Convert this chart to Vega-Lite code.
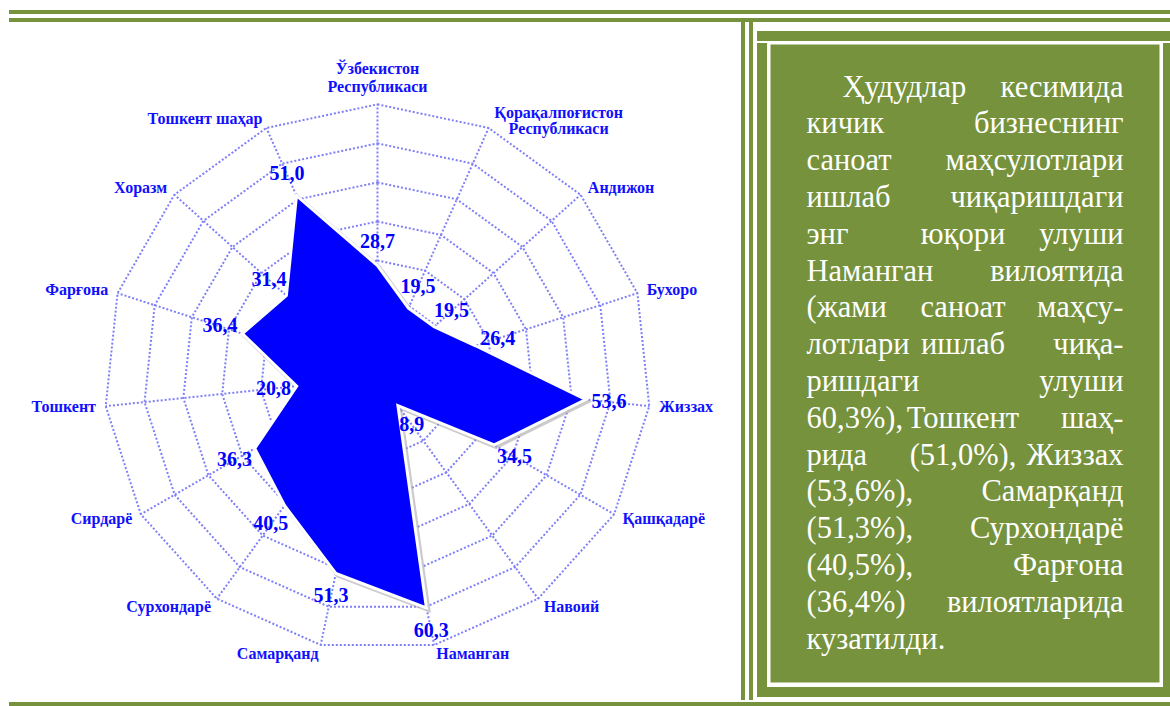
{
  "$schema": "https://vega.github.io/schema/vega-lite/v6.json",
  "padding": {"left": 0, "top": 10, "right": 0, "bottom": 0},
  "background": "#ffffff",
  "config": {
    "view": {"stroke": null},
    "concat": {"spacing": 0},
    "locale": {"number": {"decimal": ",", "thousands": " ", "grouping": [3], "currency": ["", ""]}}
  },
  "datasets": {
    "cats": [
      {"i": 0, "name": "Ўзбекистон\nРеспубликаси", "v": 28.7},
      {"i": 1, "name": "Қорақалпоғистон\nРеспубликаси", "v": 19.5},
      {"i": 2, "name": "Андижон", "v": 19.5},
      {"i": 3, "name": "Бухоро", "v": 26.4},
      {"i": 4, "name": "Жиззах", "v": 53.6},
      {"i": 5, "name": "Қашқадарё", "v": 34.5},
      {"i": 6, "name": "Навоий", "v": 8.9},
      {"i": 7, "name": "Наманган", "v": 60.3},
      {"i": 8, "name": "Самарқанд", "v": 51.3},
      {"i": 9, "name": "Сурхондарё", "v": 40.5},
      {"i": 10, "name": "Сирдарё", "v": 36.3},
      {"i": 11, "name": "Тошкент", "v": 20.8},
      {"i": 12, "name": "Фарғона", "v": 36.4},
      {"i": 13, "name": "Хоразм", "v": 31.4},
      {"i": 14, "name": "Тошкент шаҳар", "v": 51.0}
    ],
    "rings": [
      {"g": 10, "k": [0,1,2,3,4,5,6,7,8,9,10,11,12,13,14]},
      {"g": 20, "k": [0,1,2,3,4,5,6,7,8,9,10,11,12,13,14]},
      {"g": 30, "k": [0,1,2,3,4,5,6,7,8,9,10,11,12,13,14]},
      {"g": 40, "k": [0,1,2,3,4,5,6,7,8,9,10,11,12,13,14]},
      {"g": 50, "k": [0,1,2,3,4,5,6,7,8,9,10,11,12,13,14]},
      {"g": 60, "k": [0,1,2,3,4,5,6,7,8,9,10,11,12,13,14]},
      {"g": 70, "k": [0,1,2,3,4,5,6,7,8,9,10,11,12,13,14]}
    ],
    "words": [
      {"l": 1, "r": "indent", "w": "Ҳудудлар"}, {"l": 1, "r": "last", "w": "кесимида"},
      {"l": 2, "r": "first", "w": "кичик"}, {"l": 2, "r": "last", "w": "бизнеснинг"},
      {"l": 3, "r": "first", "w": "саноат"}, {"l": 3, "r": "last", "w": "маҳсулотлари"},
      {"l": 4, "r": "first", "w": "ишлаб"}, {"l": 4, "r": "last", "w": "чиқаришдаги"},
      {"l": 5, "r": "first", "w": "энг"}, {"l": 5, "r": "mid", "w": "юқори"}, {"l": 5, "r": "last", "w": "улуши"},
      {"l": 6, "r": "first", "w": "Наманган"}, {"l": 6, "r": "last", "w": "вилоятида"},
      {"l": 7, "r": "first", "w": "(жами"}, {"l": 7, "r": "mid", "w": "саноат"}, {"l": 7, "r": "last", "w": "маҳсу-"},
      {"l": 8, "r": "first", "w": "лотлари"}, {"l": 8, "r": "mid", "w": "ишлаб"}, {"l": 8, "r": "last", "w": "чиқа-"},
      {"l": 9, "r": "first", "w": "ришдаги"}, {"l": 9, "r": "last", "w": "улуши"},
      {"l": 10, "r": "first", "w": "60,3%),"}, {"l": 10, "r": "mid", "w": "Тошкент"}, {"l": 10, "r": "last", "w": "шаҳ-"},
      {"l": 11, "r": "first", "w": "рида"}, {"l": 11, "r": "mid", "w": "(51,0%),"}, {"l": 11, "r": "last", "w": "Жиззах"},
      {"l": 12, "r": "first", "w": "(53,6%),"}, {"l": 12, "r": "last", "w": "Самарқанд"},
      {"l": 13, "r": "first", "w": "(51,3%),"}, {"l": 13, "r": "last", "w": "Сурхондарё"},
      {"l": 14, "r": "first", "w": "(40,5%),"}, {"l": 14, "r": "last", "w": "Фарғона"},
      {"l": 15, "r": "first", "w": "(36,4%)"}, {"l": 15, "r": "last", "w": "вилоятларида"},
      {"l": 16, "r": "first", "w": "кузатилди."}
    ]
  },
  "vconcat": [
    {"hconcat": [
      {"width": 9, "height": 4, "data": {"values": []}, "mark": "point", "encoding": {}},
      {"width": 1161, "height": 4, "data": {"values": []}, "mark": "point", "encoding": {}, "view": {"fill": "#76923C", "stroke": null}}
    ]},
    {"vconcat": [
      {"hconcat": [
        {"width": 9, "height": 4, "data": {"values": []}, "mark": "point", "encoding": {}},
        {"width": 1161, "height": 4, "data": {"values": []}, "mark": "point", "encoding": {}, "view": {"fill": "#76923C", "stroke": null}}
      ]},
      {"hconcat": [
        {
          "width": 741, "height": 678,
          "layer": [
            {
              "data": {"name": "rings"},
              "transform": [
                {"flatten": ["k"]},
                {"calculate": "datum.k*2*PI/15", "as": "a"},
                {"calculate": "datum.g*sin(datum.a)", "as": "x"},
                {"calculate": "datum.g*cos(datum.a)", "as": "y"}
              ],
              "mark": {"type": "line", "interpolate": "linear-closed", "color": "#7f7ff8", "strokeWidth": 2, "strokeDash": [2, 2]},
              "encoding": {
                "x": {"field": "x", "type": "quantitative", "scale": {"domain": [-96.69, 93.11], "nice": false, "zero": false}, "axis": null},
                "y": {"field": "y", "type": "quantitative", "scale": {"domain": [-82.58, 91.09], "nice": false, "zero": false}, "axis": null},
                "detail": {"field": "g", "type": "nominal"},
                "order": {"field": "k", "type": "quantitative"}
              }
            },
            {
              "data": {"name": "cats"},
              "transform": [
                {"calculate": "datum.i*2*PI/15", "as": "a"},
                {"calculate": "70*sin(datum.a)", "as": "ox"},
                {"calculate": "70*cos(datum.a)", "as": "oy"},
                {"calculate": "0", "as": "zx"}
              ],
              "mark": {"type": "rule", "color": "#7f7ff8", "strokeWidth": 2, "strokeDash": [2, 2]},
              "encoding": {
                "x": {"field": "zx", "type": "quantitative"},
                "y": {"field": "zx", "type": "quantitative"},
                "x2": {"field": "ox"},
                "y2": {"field": "oy"}
              }
            },
            {
              "data": {"name": "cats"},
              "transform": [
                {"calculate": "datum.i*2*PI/15", "as": "a"},
                {"calculate": "datum.v*sin(datum.a)", "as": "x"},
                {"calculate": "datum.v*cos(datum.a)", "as": "y"}
              ],
              "mark": {"type": "line", "interpolate": "linear-closed", "color": "#a8a8a8", "strokeWidth": 4, "opacity": 0.6, "xOffset": 2, "yOffset": 2},
              "encoding": {
                "x": {"field": "x", "type": "quantitative"},
                "y": {"field": "y", "type": "quantitative"},
                "order": {"field": "i", "type": "quantitative"}
              }
            },
            {
              "data": {"name": "cats"},
              "transform": [
                {"calculate": "datum.i*2*PI/15", "as": "a"},
                {"calculate": "datum.v*sin(datum.a)", "as": "x"},
                {"calculate": "datum.v*cos(datum.a)", "as": "y"}
              ],
              "mark": {"type": "line", "interpolate": "linear-closed", "filled": true, "fill": "#0000ff", "stroke": "#ffffff", "strokeWidth": 3, "fillOpacity": 1},
              "encoding": {
                "x": {"field": "x", "type": "quantitative"},
                "y": {"field": "y", "type": "quantitative"},
                "order": {"field": "i", "type": "quantitative"}
              }
            },
            {
              "data": {"name": "cats"},
              "transform": [
                {"calculate": "datum.i*2*PI/15", "as": "a"},
                {"calculate": "(datum.v+6)*sin(datum.a)", "as": "lx"},
                {"calculate": "(datum.v+6)*cos(datum.a)", "as": "ly"}
              ],
              "mark": {"type": "text", "font": "Liberation Serif", "fontWeight": "bold", "fontSize": 20, "color": "#0000ff", "align": "center", "baseline": "middle"},
              "encoding": {
                "x": {"field": "lx", "type": "quantitative"},
                "y": {"field": "ly", "type": "quantitative"},
                "text": {"field": "v", "type": "quantitative", "format": ".1f"}
              }
            },
            {
              "data": {"name": "cats"},
              "transform": [
                {"filter": "datum.i == 0"},
                {"calculate": "datum.i*2*PI/15", "as": "a"},
                {"calculate": "72.5*sin(datum.a)", "as": "cx"},
                {"calculate": "72.5*cos(datum.a)", "as": "cy"}
              ],
              "mark": {"type": "text", "font": "Liberation Serif", "fontWeight": "bold", "fontSize": 16, "color": "#1010ff", "align": "center", "baseline": "bottom", "dy": -18, "lineBreak": "\n", "lineHeight": 18},
              "encoding": {
                "x": {"field": "cx", "type": "quantitative"},
                "y": {"field": "cy", "type": "quantitative"},
                "text": {"field": "name"}
              }
            },
            {
              "data": {"name": "cats"},
              "transform": [
                {"filter": "datum.i == 1"},
                {"calculate": "datum.i*2*PI/15", "as": "a"},
                {"calculate": "72.5*sin(datum.a)", "as": "cx"},
                {"calculate": "72.5*cos(datum.a)", "as": "cy"}
              ],
              "mark": {"type": "text", "font": "Liberation Serif", "fontWeight": "bold", "fontSize": 16, "color": "#1010ff", "align": "center", "baseline": "middle", "dx": 66, "dy": -6, "lineBreak": "\n", "lineHeight": 16},
              "encoding": {
                "x": {"field": "cx", "type": "quantitative"},
                "y": {"field": "cy", "type": "quantitative"},
                "text": {"field": "name"}
              }
            },
            {
              "data": {"name": "cats"},
              "transform": [
                {"filter": "datum.i >= 2 && datum.i <= 7"},
                {"calculate": "datum.i*2*PI/15", "as": "a"},
                {"calculate": "72.5*sin(datum.a)", "as": "cx"},
                {"calculate": "72.5*cos(datum.a)", "as": "cy"}
              ],
              "mark": {"type": "text", "font": "Liberation Serif", "fontWeight": "bold", "fontSize": 16, "color": "#1010ff", "align": "left", "baseline": "middle"},
              "encoding": {
                "x": {"field": "cx", "type": "quantitative"},
                "y": {"field": "cy", "type": "quantitative"},
                "text": {"field": "name"}
              }
            },
            {
              "data": {"name": "cats"},
              "transform": [
                {"filter": "datum.i >= 8"},
                {"calculate": "datum.i*2*PI/15", "as": "a"},
                {"calculate": "72.5*sin(datum.a)", "as": "cx"},
                {"calculate": "72.5*cos(datum.a)", "as": "cy"}
              ],
              "mark": {"type": "text", "font": "Liberation Serif", "fontWeight": "bold", "fontSize": 16, "color": "#1010ff", "align": "right", "baseline": "middle"},
              "encoding": {
                "x": {"field": "cx", "type": "quantitative"},
                "y": {"field": "cy", "type": "quantitative"},
                "text": {"field": "name"}
              }
            }
          ]
        },
        {"width": 4, "height": 678, "data": {"values": []}, "mark": "point", "encoding": {}, "view": {"fill": "#76923C", "stroke": null}},
        {"width": 4, "height": 678, "data": {"values": []}, "mark": "point", "encoding": {}},
        {"width": 4, "height": 678, "data": {"values": []}, "mark": "point", "encoding": {}, "view": {"fill": "#76923C", "stroke": null}},
        {"vconcat": [
          {"width": 417, "height": 9, "data": {"values": []}, "mark": "point", "encoding": {}},
          {"hconcat": [
            {"width": 4, "height": 664, "data": {"values": []}, "mark": "point", "encoding": {}},
            {"vconcat": [
              {"width": 413, "height": 10, "data": {"values": []}, "mark": "point", "encoding": {}, "view": {"fill": "#76923C", "stroke": null}},
              {"hconcat": [
                {"width": 10, "height": 644, "data": {"values": []}, "mark": "point", "encoding": {}, "view": {"fill": "#76923C", "stroke": null}},
                {
                  "width": 392, "height": 641,
                  "view": {"fill": "#76923C", "stroke": "#ffffff", "strokeWidth": 3},
                  "data": {"name": "words"},
                  "layer": [
                    {
                      "transform": [{"filter": "datum.r == 'first'"}],
                      "mark": {"type": "text", "font": "Liberation Serif", "fontSize": 30.5, "color": "#ffffff", "align": "left", "baseline": "alphabetic"},
                      "encoding": {
                        "x": {"field": "r", "type": "ordinal", "scale": {"domain": ["first", "mid", "last"], "range": [37.5, 354.5], "padding": 0}, "axis": null},
                        "y": {"field": "l", "type": "quantitative", "scale": {"domain": [1, 16], "range": [53.5, 605.5], "nice": false, "zero": false}, "axis": null},
                        "text": {"field": "w"}
                      }
                    },
                    {
                      "transform": [{"filter": "datum.r == 'mid'"}],
                      "mark": {"type": "text", "font": "Liberation Serif", "fontSize": 30.5, "color": "#ffffff", "align": "center", "baseline": "alphabetic", "dx": -2},
                      "encoding": {
                        "x": {"field": "r", "type": "ordinal"},
                        "y": {"field": "l", "type": "quantitative"},
                        "text": {"field": "w"}
                      }
                    },
                    {
                      "transform": [{"filter": "datum.r == 'last'"}],
                      "mark": {"type": "text", "font": "Liberation Serif", "fontSize": 30.5, "color": "#ffffff", "align": "right", "baseline": "alphabetic"},
                      "encoding": {
                        "x": {"field": "r", "type": "ordinal"},
                        "y": {"field": "l", "type": "quantitative"},
                        "text": {"field": "w"}
                      }
                    },
                    {
                      "transform": [{"filter": "datum.r == 'indent'"}, {"calculate": "'first'", "as": "rr"}],
                      "mark": {"type": "text", "font": "Liberation Serif", "fontSize": 30.5, "color": "#ffffff", "align": "left", "baseline": "alphabetic", "dx": 36},
                      "encoding": {
                        "x": {"field": "rr", "type": "ordinal"},
                        "y": {"field": "l", "type": "quantitative"},
                        "text": {"field": "w"}
                      }
                    }
                  ]
                },
                {"width": 8, "height": 644, "data": {"values": []}, "mark": "point", "encoding": {}, "view": {"fill": "#76923C", "stroke": null}}
              ]},
              {"width": 413, "height": 10, "data": {"values": []}, "mark": "point", "encoding": {}, "view": {"fill": "#76923C", "stroke": null}}
            ]}
          ]},
          {"width": 417, "height": 5, "data": {"values": []}, "mark": "point", "encoding": {}}
        ]}
      ]},
      {"hconcat": [
        {"width": 9, "height": 4, "data": {"values": []}, "mark": "point", "encoding": {}},
        {"width": 1161, "height": 4, "data": {"values": []}, "mark": "point", "encoding": {}, "view": {"fill": "#76923C", "stroke": null}}
      ]}
    ]}
  ],
  "spacing": 4
}
